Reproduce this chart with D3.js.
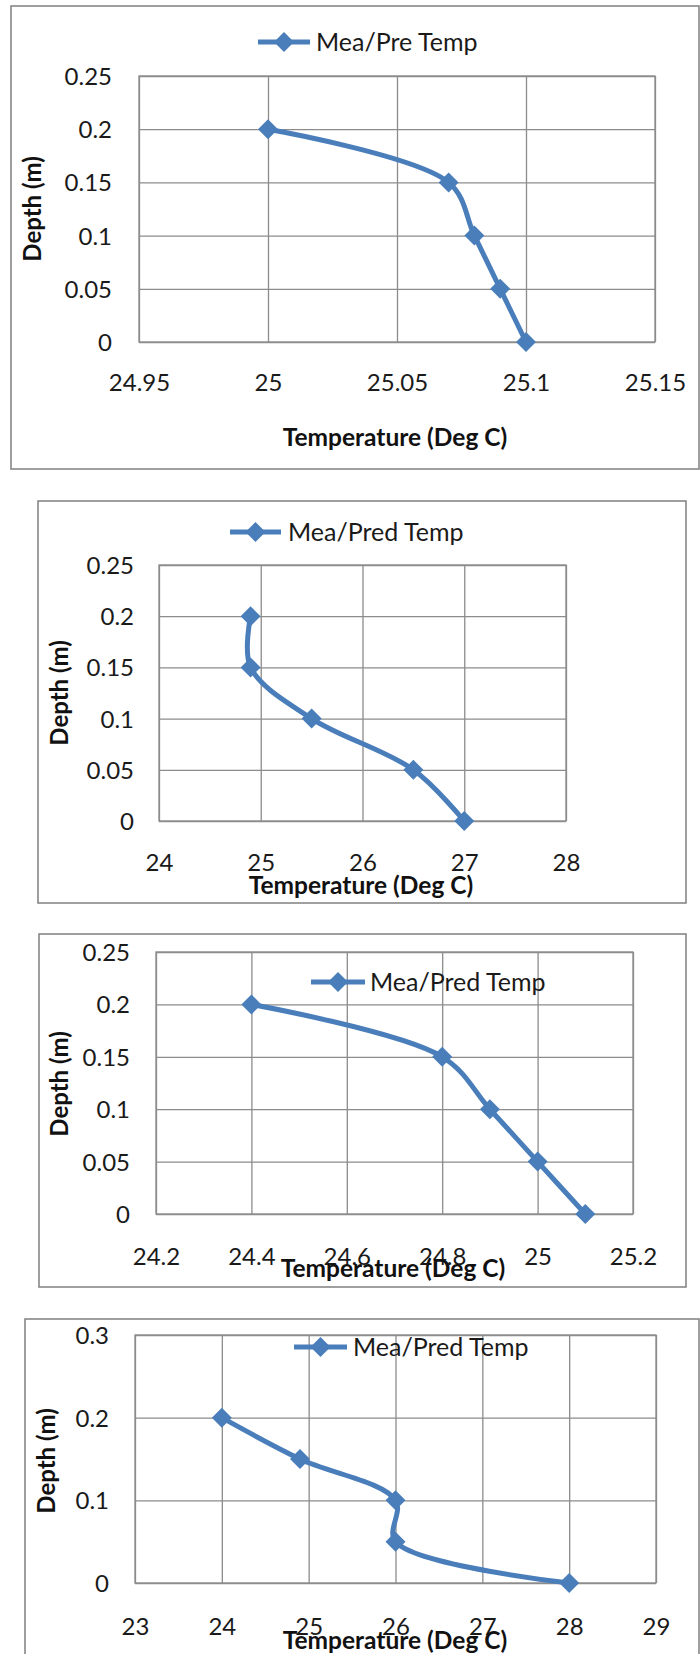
<!DOCTYPE html>
<html>
<head>
<meta charset="utf-8">
<script src="https://cdn.jsdelivr.net/npm/d3@7"></script>
<style>
html,body{margin:0;padding:0;background:#fff;}
svg{display:block;}
</style>
</head>
<body>
<svg id="c" width="700" height="1654"></svg>
<script>
// ---- data ----
const depths = [0.2, 0.15, 0.1, 0.05, 0];
const temps1 = [25, 25.07, 25.08, 25.09, 25.1];
const temps2 = [24.9, 24.9, 25.5, 26.5, 27];
const temps3 = [24.4, 24.8, 24.9, 25, 25.1];
const temps4 = [24, 24.9, 26, 26, 28];
const xTicks1 = [24.95, 25, 25.05, 25.1, 25.15];
const xTicks2 = [24, 25, 26, 27, 28];
const xTicks3 = [24.2, 24.4, 24.6, 24.8, 25, 25.2];
const xTicks4 = [23, 24, 25, 26, 27, 28, 29];
const yTicksA = [0, 0.05, 0.1, 0.15, 0.2, 0.25];
const yTicksB = [0, 0.1, 0.2, 0.3];
const legendNames = ["Mea/Pre Temp", "Mea/Pred Temp", "Mea/Pred Temp", "Mea/Pred Temp"];
const xTitle = "Temperature (Deg C)";
const yTitle = "Depth (m)";

// ---- layout (positions only) ----
const layouts = [
  {frame:[11,6,699,469], plot:[139,76,655,342], legend:[258,310,42,316], yLab:112, xLab:383, xT:[395,437], yT:[33,209]},
  {frame:[38,501,686,903], plot:[159,565,566,821], legend:[230,281,532,288], yLab:134, xLab:863, xT:[361,885], yT:[60,693]},
  {frame:[39,934,686,1287], plot:[156,952,633,1214], legend:[311,365,982,370], yLab:130, xLab:1257, xT:[393,1268], yT:[60,1084]},
  {frame:[25,1319,699,1670], plot:[135,1335,656,1583], legend:[294,347,1347,353], yLab:109, xLab:1627, xT:[395,1640], yT:[47,1461]}
];
const charts = [
  {temps:temps1, xTicks:xTicks1, yTicks:yTicksA},
  {temps:temps2, xTicks:xTicks2, yTicks:yTicksA},
  {temps:temps3, xTicks:xTicks3, yTicks:yTicksA},
  {temps:temps4, xTicks:xTicks4, yTicks:yTicksB}
];

const BLUE = "#4a7ebb";
const GRID = "#8c8c8c";
const FONT = "Lato, 'Open Sans', sans-serif";
const svg = d3.select("#c");
svg.append("rect").attr("width",700).attr("height",1654).attr("fill","#fff");

function diamondPath(s){ return `M0,${-s}L${s},0L0,${s}L${-s},0Z`; }

charts.forEach((c, i) => {
  const L = layouts[i];
  const g = svg.append("g");
  const [fx0,fy0,fx1,fy1] = L.frame;
  g.append("rect").attr("x",fx0).attr("y",fy0).attr("width",fx1-fx0).attr("height",fy1-fy0)
    .attr("fill","#fff").attr("stroke","#878787").attr("stroke-width",1.6);

  const [px0,py0,px1,py1] = L.plot;
  const x = d3.scaleLinear().domain(d3.extent(c.xTicks)).range([px0,px1]);
  const y = d3.scaleLinear().domain(d3.extent(c.yTicks)).range([py1,py0]);

  const gx = g.append("g").attr("transform",`translate(0,${py1})`)
    .call(d3.axisBottom(x).tickValues(c.xTicks).tickSize(-(py1-py0)).tickFormat(d=>String(d)));
  const gy = g.append("g").attr("transform",`translate(${px0},0)`)
    .call(d3.axisLeft(y).tickValues(c.yTicks).tickSize(-(px1-px0)).tickFormat(d=>String(d)));
  [gx,gy].forEach(a=>{
    a.select(".domain").remove();
    a.selectAll(".tick line").attr("stroke",GRID).attr("stroke-width",1.3);
    a.selectAll(".tick text").attr("font-family",FONT).attr("font-size",24).attr("fill","#1a1a1a");
  });
  gx.selectAll(".tick text").attr("y", L.xLab - py1).attr("dy","0.35em");
  gy.selectAll(".tick text").attr("x", L.yLab - px0).attr("dy","0.35em").attr("text-anchor","end");

  g.append("rect").attr("x",px0).attr("y",py0).attr("width",px1-px0).attr("height",py1-py0)
    .attr("fill","none").attr("stroke",GRID).attr("stroke-width",1.3);

  const pts = c.temps.map((t,k)=>[x(t), y(depths[k])]);
  g.append("path").attr("d", d3.line().curve(d3.curveCatmullRom.alpha(0.5))(pts))
    .attr("fill","none").attr("stroke",BLUE).attr("stroke-width",5).attr("stroke-linejoin","round");
  g.selectAll(".m").data(pts).enter().append("path")
    .attr("transform",d=>`translate(${d[0]},${d[1]})`).attr("d",diamondPath(10)).attr("fill",BLUE);

  // legend
  const [lx0,lx1,ly,tx] = L.legend;
  g.append("line").attr("x1",lx0).attr("x2",lx1).attr("y1",ly).attr("y2",ly)
    .attr("stroke",BLUE).attr("stroke-width",5);
  g.append("path").attr("transform",`translate(${(lx0+lx1)/2},${ly})`).attr("d",diamondPath(10)).attr("fill",BLUE);
  g.append("text").attr("x",tx).attr("y",ly).attr("dy","0.35em").attr("font-family",FONT)
    .attr("font-size",25).attr("fill","#1a1a1a").text(legendNames[i]);

  // axis titles
  g.append("text").attr("x",L.xT[0]).attr("y",L.xT[1]).attr("dy","0.35em").attr("text-anchor","middle")
    .attr("font-family",FONT).attr("font-weight","bold").attr("font-size",24.5).attr("fill","#111").text(xTitle);
  g.append("text").attr("transform",`translate(${L.yT[0]},${L.yT[1]}) rotate(-90)`).attr("dy","0.35em")
    .attr("text-anchor","middle").attr("font-family",FONT).attr("font-weight","bold").attr("font-size",24)
    .attr("fill","#111").text(yTitle);
});
</script>
</body>
</html>
